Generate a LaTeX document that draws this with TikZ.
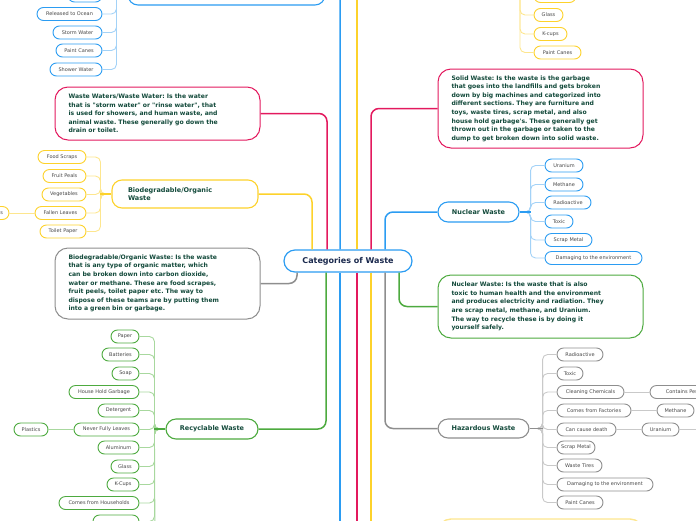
\documentclass[tikz,border=0pt]{standalone}
\usepackage{fontspec}
\newfontfamily\dv{DejaVu Sans}
\definecolor{cblue}{HTML}{2B9CF2}
\definecolor{lblue}{HTML}{A3D2F7}
\definecolor{cpink}{HTML}{E3195E}
\definecolor{lpink}{HTML}{F4A6C1}
\definecolor{cyel}{HTML}{FDD22B}
\definecolor{lyel}{HTML}{FDE68E}
\definecolor{cgreen}{HTML}{4DAA3F}
\definecolor{lgreen}{HTML}{A8D89E}
\definecolor{cgray}{HTML}{8E8E8E}
\definecolor{lgray}{HTML}{C9C9C9}
\definecolor{dtext}{HTML}{134A3B}
\definecolor{ctext}{HTML}{1B2A4E}
\definecolor{ltext}{HTML}{484848}
\newcommand\leaffont{\dv\fontsize{5}{6}\selectfont}
\newcommand\mainfnt{\dv\bfseries\fontsize{6.5}{8}\selectfont}
\newcommand\descfnt{\dv\bfseries\fontsize{6.1}{8.6}\selectfont\frenchspacing}
\newcommand\catfnt{\dv\bfseries\fontsize{8}{9}\selectfont}
\tikzset{
  leaf/.style={draw, rounded corners=6.5, line width=0.9, fill=white, minimum height=13, inner sep=0, font=\leaffont, text=ltext},
  mainnode/.style={draw, rounded corners=10, line width=1.1, fill=white, inner sep=0, font=\mainfnt, text=dtext},
  desc/.style={draw, rounded corners=13, line width=1, fill=white, inner sep=0, font=\descfnt, text=dtext, align=left, text width=178, minimum width=205},
  trunk/.style={line width=1.5, rounded corners=8},
  twig/.style={line width=0.9, rounded corners=5},
  stub/.style={line width=1.5},
}
\begin{document}
\begin{tikzpicture}[x=1pt,y=-1pt]
\useasboundingbox (0,0) rectangle (696,520);

% central
\node[draw=cblue, fill=white, line width=1.2, rounded corners=11, minimum width=128, minimum height=22, inner sep=0, font=\catfnt, text=ctext] (cat) at (348,261) {Categories of Waste};

% ---------- top-left blue branch
\node[mainnode, draw=cblue, minimum width=197, minimum height=27] (topbox) at (226.5,-8.5) {};
\node[leaf, draw=cblue, minimum width=34] (tl0) at (85,-4.5) {};
\node[leaf, draw=cblue, minimum width=65] (tl1) at (69.5,14) {Released to Ocean};
\node[leaf, draw=cblue, minimum width=49] (tl2) at (77.5,32.5) {Storm Water};
\node[leaf, draw=cblue, minimum width=46] (tl3) at (79,50.5) {Paint Canes};
\node[leaf, draw=cblue, minimum width=52] (tl4) at (76,69.5) {Shower Water};
\foreach \c in {tl0,tl1,tl2,tl3,tl4}{\draw[lblue, twig] (topbox.west) -- ++(-11,0) |- (\c.east);}
\draw[cblue, stub] (topbox.west) -- ++(-11,0);

% ---------- waste waters
\node[desc, draw=cpink, minimum height=53] (ww) at (157.5,113.5) {Waste Waters/Waste Water: Is the water\\that is "storm water" or "rinse water", that\\is used for showers, and human waste, and\\animal waste. These generally go down the\\drain or toilet.};

% ---------- biodegradable
\node[mainnode, draw=cyel, minimum width=146, minimum height=28, align=left, text width=114] (bio) at (185,194) {Biodegradable/Organic\\Waste};
\node[leaf, draw=cyel, minimum width=48] (b1) at (62,157) {Food Scraps};
\node[leaf, draw=cyel, minimum width=43] (b2) at (64.5,176) {Fruit Peals};
\node[leaf, draw=cyel, minimum width=44] (b3) at (64,194.5) {Vegetables};
\node[leaf, draw=cyel, minimum width=51] (b4) at (60.5,213) {Fallen Leaves};
\node[leaf, draw=cyel, minimum width=46] (b5) at (63,231.5) {Toilet Paper};
\node[leaf, draw=cyel, minimum width=40, text width=28, align=right] (b41) at (-11,213) {s};
\foreach \c in {b1,b2,b3,b4,b5}{\draw[lyel, twig] (bio.west) -- ++(-11,0) |- (\c.east);}
\draw[cyel, stub] (bio.west) -- ++(-11,0);
\draw[lyel, twig] (b4.west) -- (b41.east);

% ---------- biodegradable description
\node[desc, draw=cgray, minimum height=71] (biod) at (157.5,283.5) {Biodegradable/Organic Waste: Is the waste\\that is any type of organic matter, which\\can be broken down into carbon dioxide,\\water or methane. These are food scrapes,\\fruit peels, toilet paper etc. The way to\\dispose of these teams are by putting them\\into a green bin or garbage.};

% ---------- recyclable
\node[mainnode, draw=cgreen, minimum width=92, minimum height=20] (rec) at (212,429) {Recyclable Waste};
\node[leaf, draw=cgreen, minimum width=28] (r1) at (125,336.5) {Paper};
\node[leaf, draw=cgreen, minimum width=37] (r2) at (120.5,354.5) {Batteries};
\node[leaf, draw=cgreen, minimum width=27] (r3) at (125.5,373.5) {Soap};
\node[leaf, draw=cgreen, minimum width=70] (r4) at (104,392) {House Hold Garbage};
\node[leaf, draw=cgreen, minimum width=41] (r5) at (118.5,410.5) {Detergent};
\node[leaf, draw=cgreen, minimum width=65] (r6) at (106.5,429.5) {Never Fully Leaves};
\node[leaf, draw=cgreen, minimum width=41] (r7) at (118.5,447.5) {Aluminum};
\node[leaf, draw=cgreen, minimum width=28] (r8) at (125,466.5) {Glass};
\node[leaf, draw=cgreen, minimum width=32] (r9) at (123,484.5) {K-Cups};
\node[leaf, draw=cgreen, minimum width=80] (r10) at (99,503) {Comes from Households};
\node[leaf, draw=cgreen, minimum width=46] (r11) at (116,521.5) {};
\node[leaf, draw=cgreen, minimum width=34] (r61) at (31,429.5) {Plastics};
\coordinate (roff) at (155,540);
\foreach \c in {r1,r2,r3,r4,r5,r6,r7,r8,r9,r10,r11}{\draw[lgreen, twig] (rec.west) -- ++(-11,0) |- (\c.east);}
\draw[lgreen, twig] (rec.west) -- ++(-11,0) -- (roff);
\draw[cgreen, stub] (rec.west) -- ++(-11,0);
\draw[lgreen, twig] (r6.west) -- (r61.east);

% ---------- top-right yellow
\coordinate (tyP) at (520,-30);
\node[leaf, draw=cyel, minimum width=42] (y0) at (555,-4) {};
\node[leaf, draw=cyel, minimum width=29] (y1) at (548.5,15) {Glass};
\node[leaf, draw=cyel, minimum width=33] (y2) at (550.5,34) {K-cups};
\node[leaf, draw=cyel, minimum width=47] (y3) at (557.5,52.5) {Paint Canes};
\foreach \c in {y0,y1,y2,y3}{\draw[lyel, twig] (tyP) |- (\c.west);}

% ---------- solid waste
\node[desc, draw=cpink, minimum height=79] (solid) at (540.5,108.5) {Solid Waste: Is the waste is the garbage\\that goes into the landfills and gets broken\\down by big machines and categorized into\\different sections. They are furniture and\\toys, waste tires, scrap metal, and also\\house hold garbage's. These generally get\\thrown out in the garbage or taken to the\\dump to get broken down into solid waste.};

% ---------- nuclear
\node[mainnode, draw=cblue, minimum width=81, minimum height=20] (nuc) at (478.5,212) {Nuclear Waste};
\node[leaf, draw=cblue, minimum width=38] (n1) at (564,165.5) {Uranium};
\node[leaf, draw=cblue, minimum width=38] (n2) at (564,184.5) {Methane};
\node[leaf, draw=cblue, minimum width=46] (n3) at (568,202.5) {Radioactive};
\node[leaf, draw=cblue, minimum width=28] (n4) at (559,221.5) {Toxic};
\node[leaf, draw=cblue, minimum width=47] (n5) at (568.5,240) {Scrap Metal};
\node[leaf, draw=cblue, minimum width=97] (n6) at (593.5,258) {Damaging to the environment};
\foreach \c in {n1,n2,n3,n4,n5,n6}{\draw[lblue, twig] (nuc.east) -- ++(11,0) |- (\c.west);}
\draw[cblue, stub] (nuc.east) -- ++(11,0);

% ---------- nuclear description
\node[desc, draw=cgreen, minimum height=63] (nucd) at (540.5,306.5) {Nuclear Waste: Is the waste that is also\\toxic to human health and the environment\\and produces electricity and radiation. They\\are scrap metal, methane, and Uranium.\\The way to recycle these is by doing it\\yourself safely.};

% ---------- hazardous
\node[mainnode, draw=cgray, minimum width=91, minimum height=19] (haz) at (483.5,428.5) {Hazardous Waste};
\node[leaf, draw=cgray, minimum width=46] (h1) at (580,354.5) {Radioactive};
\node[leaf, draw=cgray, minimum width=26] (h2) at (570,373.5) {Toxic};
\node[leaf, draw=cgray, minimum width=67] (h3) at (590.5,392) {Cleaning Chemicals};
\node[leaf, draw=cgray, minimum width=74] (h4) at (594,410.5) {Comes from Factories};
\node[leaf, draw=cgray, minimum width=59] (h5) at (586.5,429.5) {Can cause death};
\node[leaf, draw=cgray, minimum width=38] (h6) at (576,447.5) {Scrap Metal};
\node[leaf, draw=cgray, minimum width=45] (h7) at (579.5,465.5) {Waste Tires};
\node[leaf, draw=cgray, minimum width=96] (h8) at (605,484.5) {Damaging to the environment};
\node[leaf, draw=cgray, minimum width=46] (h9) at (580,502.5) {Paint Canes};
\node[leaf, draw=cgray, minimum width=80] (h31) at (690,392) {Contains Pesticides};
\node[leaf, draw=cgray, minimum width=37] (h41) at (675.5,410.5) {Methane};
\node[leaf, draw=cgray, minimum width=37] (h51) at (660.5,429.5) {Uranium};
\coordinate (hoff) at (710,429.5);
\foreach \c in {h1,h2,h3,h4,h5,h6,h7,h8,h9}{\draw[lgray, twig] (haz.east) -- ++(13,0) |- (\c.west);}
\draw[cgray, stub] (haz.east) -- ++(13,0);
\draw[lgray, twig] (h3.east) -- (h31.west);
\draw[lgray, twig] (h4.east) -- (h41.west);
\draw[lgray, twig] (h5.east) -- (h51.west);
\draw[lgray, twig] (h51.east) -- (hoff);

% ---------- bottom (cut) yellow description
\node[desc, draw=lyel, line width=1.4, minimum height=60] (ybot) at (540.5,549) {};

% ---------- trunks from central node
\coordinate (upY) at (357,-30);
\coordinate (dnB) at (340,540);
\coordinate (dnP) at (357,540);
\coordinate (dnY) at (371,540);
\draw[cyel, trunk] ([xshift=-36]cat.north) |- (bio.east);
\draw[cpink, trunk] ([xshift=-21]cat.north) |- (ww.east);
\draw[cblue, trunk] ([xshift=-8]cat.north) |- (topbox.east);
\draw[cyel, trunk] ([xshift=9]cat.north) -- (upY);
\draw[cpink, trunk] ([xshift=23]cat.north) |- (solid.west);
\draw[cblue, trunk] ([xshift=37]cat.north) |- (nuc.west);
\draw[cgray, trunk] ([xshift=-51]cat.south) |- (biod.east);
\draw[cgreen, trunk] ([xshift=-22]cat.south) |- (rec.east);
\draw[cblue, trunk] ([xshift=-8]cat.south) -- (dnB);
\draw[cpink, trunk] ([xshift=9]cat.south) -- (dnP);
\draw[cyel, trunk] ([xshift=23]cat.south) -- (dnY);
\draw[cgray, trunk] ([xshift=37]cat.south) |- (haz.west);
\draw[cgreen, trunk] ([xshift=51]cat.south) |- (nucd.west);
\end{tikzpicture}
\end{document}
